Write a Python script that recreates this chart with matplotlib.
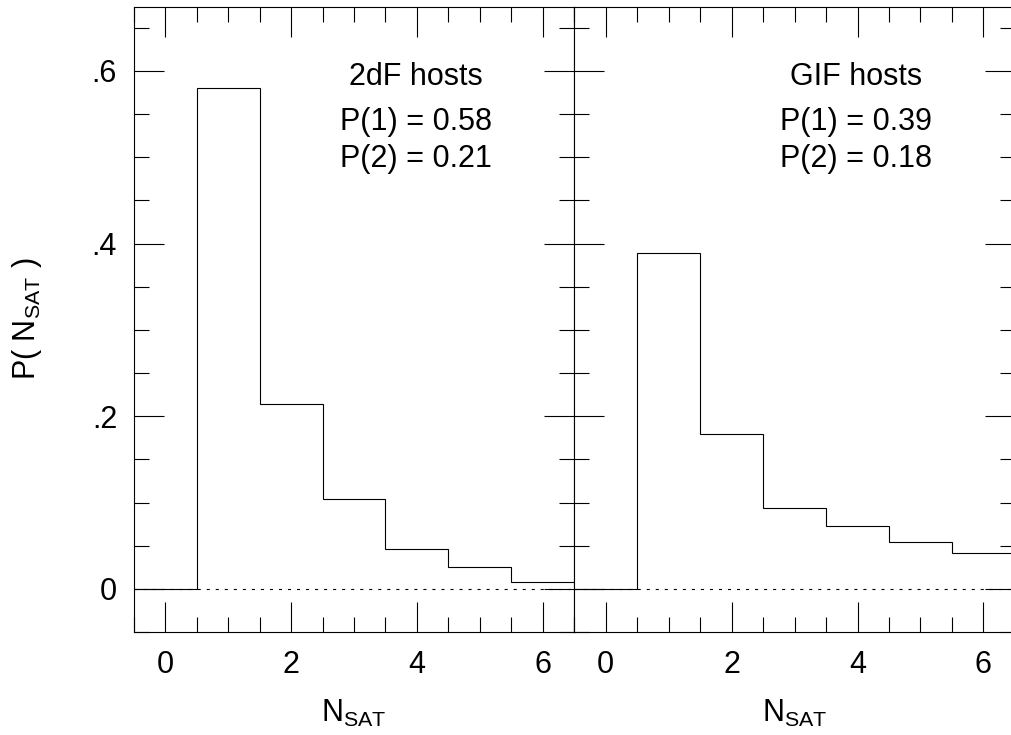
import matplotlib
matplotlib.use("Agg")
import matplotlib.pyplot as plt
from matplotlib.ticker import MultipleLocator, FixedLocator, FixedFormatter

plt.rcParams['font.family'] = ['Liberation Sans', 'DejaVu Sans']
plt.rcParams['mathtext.fontset'] = 'custom'
plt.rcParams['mathtext.rm'] = 'Liberation Sans'
plt.rcParams['mathtext.it'] = 'Liberation Sans:italic'
plt.rcParams['lines.scale_dashes'] = False

# Satellite-count distributions (bins centred on N = 0..6)
n_sat = [0, 1, 2, 3, 4, 5, 6]
p_2df = [0.0, 0.58, 0.214, 0.104, 0.046, 0.025, 0.008]
p_gif = [0.0, 0.389, 0.179, 0.094, 0.073, 0.054, 0.042]
panel_names = ["2dF hosts", "GIF hosts"]

y_major = [0.0, 0.2, 0.4, 0.6]
y_major_labels = ["0", ".2", ".4", ".6"]
x_major = [0, 2, 4, 6]

W, H = 1011, 735
fig = plt.figure(figsize=(W / 100, H / 100), dpi=100)

ax_left = 133.7 / W
ax_w = 440.6 / W
ax_bot = (H - 632) / H
ax_h = (632 - 7.3) / H

FS = 22
edges = [n - 0.5 for n in n_sat] + [n_sat[-1] + 0.5]

for i, (vals, name) in enumerate([(p_2df, panel_names[0]), (p_gif, panel_names[1])]):
    ax = fig.add_axes([ax_left + i * ax_w, ax_bot, ax_w, ax_h])
    ax.set_xlim(-0.5, 6.5)
    ax.set_ylim(-0.05, 0.6737)

    ax.axhline(0, color='black', lw=0.8, linestyle=(0, (2.2, 4.3)), zorder=1)
    ax.stairs(vals, edges, baseline=None, color='black', lw=0.8, zorder=2)

    ax.xaxis.set_major_locator(FixedLocator(x_major))
    ax.xaxis.set_minor_locator(MultipleLocator(0.5))
    ax.yaxis.set_major_locator(FixedLocator(y_major))
    ax.yaxis.set_minor_locator(MultipleLocator(0.05))
    if i == 0:
        ax.yaxis.set_major_formatter(FixedFormatter(y_major_labels))
    else:
        ax.set_yticklabels([])

    ax.tick_params(which='both', direction='in', top=True, right=True,
                   width=0.8, labelsize=FS)
    ax.tick_params(which='major', length=21.6)
    ax.tick_params(which='minor', length=10.8)
    ax.tick_params(axis='x', which='major', pad=13)
    ax.tick_params(axis='y', which='major', pad=12)
    for sp in ax.spines.values():
        sp.set_linewidth(0.8)

    ax.text(0.64, 0.889, name, transform=ax.transAxes, ha='center', va='center',
            fontsize=FS)
    ax.text(0.64, 0.817, f"P(1) = {vals[1]:.2f}", transform=ax.transAxes,
            ha='center', va='center', fontsize=FS)
    ax.text(0.64, 0.757, f"P(2) = {vals[2]:.2f}", transform=ax.transAxes,
            ha='center', va='center', fontsize=FS)

    ax.text(0.5, -0.13, r"N$_{\rm SAT}$", transform=ax.transAxes,
            ha='center', va='center', fontsize=FS)

fig.text(27 / W, 1 - 319 / H, r"P( N$_{\rm SAT}$ )", rotation=90,
         ha='center', va='center', fontsize=FS)

fig.savefig("out.png", dpi=100)
